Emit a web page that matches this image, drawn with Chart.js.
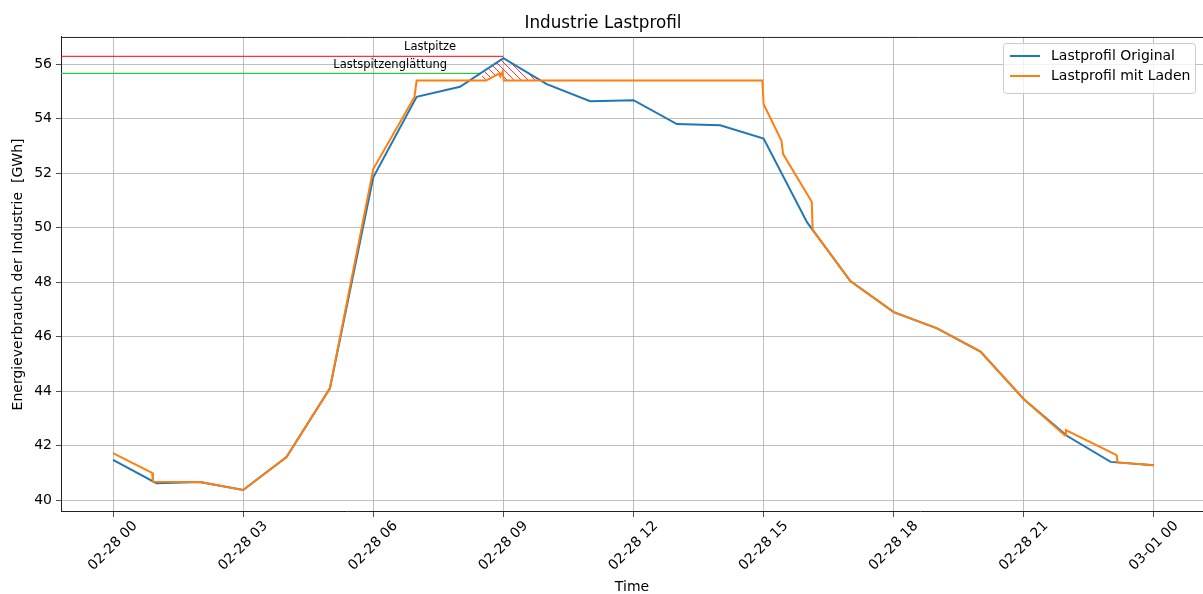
<!DOCTYPE html>
<html>
<head>
<meta charset="utf-8">
<script src="https://cdn.jsdelivr.net/npm/chart.js@4"></script>
<style>
  html, body { margin: 0; padding: 0; background: #fff; overflow: hidden; }
  #wrap { width: 1210px; height: 594px; }
</style>
</head>
<body>
<div id="wrap"><canvas id="c" width="1210" height="594"></canvas></div>
<script>
// ---- data (hours since 02-28 00:00) ----
const origHours = [0,1,2,3,4,5,6,7,8,9,10,11,12,13,14,15,16,17,18,19,20,21,22,23,24];
const origValues = [41.47,40.62,40.66,40.37,41.58,44.10,51.85,54.80,55.17,56.22,55.27,54.64,54.68,53.80,53.76,53.27,50.20,48.04,46.90,46.30,45.45,43.70,42.35,41.40,41.28];

const ladenHours = [0,0.9,0.92,2,3,4,5,6,6.95,7.0,8.6,8.9,8.93,8.98,9.01,14.97,15.0,15.41,15.45,16.11,16.13,17,18,19,20,21,21.95,21.97,23.14,23.16,24];
const ladenValues = [41.72,41.00,40.67,40.66,40.37,41.58,44.10,52.15,54.80,55.40,55.40,55.65,55.55,55.72,55.40,55.40,54.53,53.20,52.70,50.95,49.92,48.04,46.90,46.30,45.45,43.70,42.37,42.57,41.65,41.38,41.28];

// hatched region (original above smoothing threshold)
const hatchHours = [8.5,9.0,9.75];
const hatchTop = [55.695,56.22,55.51];
const hatchBaseHours = [8.5,8.6,8.9,8.93,8.98,9.01,9.75];
const hatchBase = [55.40,55.40,55.65,55.55,55.72,55.40,55.40];

const peakValue = 56.29;      // Lastspitze
const smoothValue = 55.66;    // Lastspitzenglättung
const peakHour = 9.0;
const smoothEndHour = 8.48;

const xTickHours = [0,3,6,9,12,15,18,21,24];
const xTickLabels = ['02-28 00','02-28 03','02-28 06','02-28 09','02-28 12','02-28 15','02-28 18','02-28 21','03-01 00'];
const yTickValues = [40,42,44,46,48,50,52,54,56];

const FONT = "'DejaVu Sans', sans-serif";
const zip = (xs, ys) => xs.map((x, i) => ({x, y: ys[i]}));

// hatch pattern
const pc = document.createElement('canvas');
pc.width = 7; pc.height = 7;
const pctx = pc.getContext('2d');
pctx.strokeStyle = 'red';
pctx.lineWidth = 0.8;
pctx.beginPath();
pctx.moveTo(-1, -1); pctx.lineTo(8, 8);
pctx.stroke();
const hatchPattern = pctx.createPattern(pc, 'repeat');

const overlay = {
  id: 'overlay',
  afterDatasetsDraw(chart) {
    const {ctx, chartArea: a, scales: {x, y}} = chart;
    ctx.save();
    // top spine
    ctx.strokeStyle = '#222';
    ctx.lineWidth = 1;
    ctx.beginPath();
    ctx.moveTo(a.left, a.top + 0.5); ctx.lineTo(a.right, a.top + 0.5);
    ctx.stroke();
    // annotations
    ctx.fillStyle = '#000';
    ctx.font = "11.5px " + FONT;
    ctx.textAlign = 'center';
    ctx.textBaseline = 'middle';
    ctx.fillText('Lastpitze', x.getPixelForValue(7.31), y.getPixelForValue(56.62));
    ctx.fillText('Lastspitzenglättung', x.getPixelForValue(6.39), y.getPixelForValue(55.98));
    // legend
    const lx = 1003, ly = 43, lw = 192, lh = 50;
    ctx.fillStyle = 'rgba(255,255,255,0.8)';
    ctx.strokeStyle = '#cccccc';
    ctx.lineWidth = 1;
    ctx.beginPath();
    ctx.roundRect(lx + 0.5, ly + 0.5, lw, lh, 3);
    ctx.fill(); ctx.stroke();
    const items = [['Lastprofil Original', '#1f77b4', 56], ['Lastprofil mit Laden', '#ff7f0e', 76]];
    ctx.font = "14px " + FONT;
    ctx.textAlign = 'left';
    items.forEach(([t, c, yy]) => {
      ctx.strokeStyle = c; ctx.lineWidth = 2;
      ctx.beginPath(); ctx.moveTo(1010, yy); ctx.lineTo(1040, yy); ctx.stroke();
      ctx.fillStyle = '#000';
      ctx.fillText(t, 1051, yy);
    });
    ctx.restore();
  },
  afterDraw(chart) {
    const {ctx, scales: {x}} = chart;
    ctx.save();
    ctx.fillStyle = '#000';
    ctx.font = "14px " + FONT;
    ctx.textAlign = 'center';
    ctx.textBaseline = 'middle';
    xTickHours.forEach((h, i) => {
      const px = x.getPixelForValue(h);
      ctx.save();
      ctx.translate(px, 546);
      ctx.rotate(-Math.PI / 4);
      ctx.fillText(xTickLabels[i], 0, 0);
      ctx.restore();
    });
    ctx.fillText('Time', 632, 587);
    ctx.restore();
  }
};

new Chart(document.getElementById('c'), {
  type: 'line',
  data: {
    datasets: [
      {label: 'Lastprofil Original', data: zip(origHours, origValues), borderColor: '#1f77b4', borderWidth: 2, pointRadius: 0, fill: false, order: 2},
      {label: 'Lastprofil mit Laden', data: zip(ladenHours, ladenValues), borderColor: '#ff7f0e', borderWidth: 2, pointRadius: 0, fill: false, order: 1},
      {label: 'hatch', data: zip(hatchHours, hatchTop), borderWidth: 0.01, borderColor: 'rgba(0,0,0,0)', pointRadius: 0, fill: 3, backgroundColor: hatchPattern, order: 4},
      {label: 'hatchBase', data: zip(hatchBaseHours, hatchBase), borderWidth: 0.01, borderColor: 'rgba(0,0,0,0)', pointRadius: 0, fill: false, order: 5},
      {label: 'Lastspitze', data: [{x: -1.2, y: peakValue}, {x: peakHour, y: peakValue}], borderColor: '#ff0000', borderWidth: 1, pointRadius: 0, fill: false, order: 3},
      {label: 'Glättung', data: [{x: -1.2, y: smoothValue}, {x: smoothEndHour, y: smoothValue}], borderColor: '#33c24d', borderWidth: 1.2, pointRadius: 0, fill: false, order: 3}
    ]
  },
  options: {
    responsive: false,
    animation: false,
    layout: {padding: {left: 0, right: 4, top: 0, bottom: 0}},
    plugins: {
      legend: {display: false},
      tooltip: {enabled: false},
      title: {display: true, text: 'Industrie Lastprofil', color: '#000', font: {family: FONT, size: 16.8, weight: 'normal'}, padding: {top: 14, bottom: 2.8}}
    },
    scales: {
      x: {
        type: 'linear', min: -1.2, max: 25.2,
        afterBuildTicks: s => { s.ticks = xTickHours.map(v => ({value: v})); },
        afterFit: s => { s.height = 82; },
        ticks: {display: false},
        grid: {color: '#b0b0b0', lineWidth: 0.8, tickLength: 5, tickColor: '#222', drawTicks: true},
        border: {display: true, color: '#222', width: 1}
      },
      y: {
        type: 'linear', min: 39.56, max: 57.0,
        afterBuildTicks: s => { s.ticks = yTickValues.map(v => ({value: v})); },
        afterFit: s => { s.width = 61; },
        ticks: {color: '#000', font: {family: FONT, size: 14}, padding: 4},
        grid: {color: '#b0b0b0', lineWidth: 0.8, tickLength: 5, tickColor: '#222'},
        border: {display: true, color: '#222', width: 1},
        title: {display: true, text: 'Energieverbrauch der Industrie  [GWh]', color: '#000', font: {family: FONT, size: 14}, padding: {top: 10, bottom: 0}}
      }
    }
  },
  plugins: [overlay]
});
</script>
</body>
</html>
